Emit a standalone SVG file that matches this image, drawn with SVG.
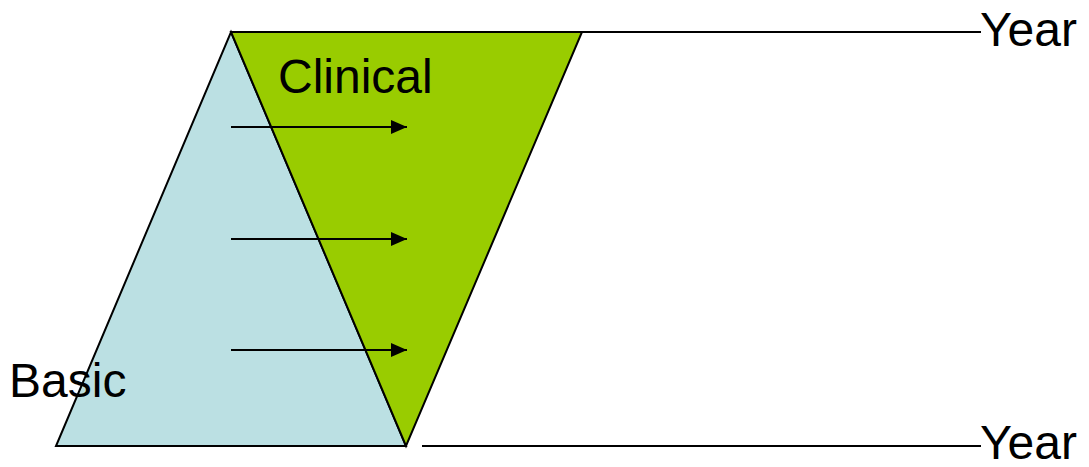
<svg xmlns="http://www.w3.org/2000/svg" width="1089" height="467" viewBox="0 0 1089 467">
<style>
text{font-family:"Liberation Sans",Arial,sans-serif;font-size:48px;fill:#000}
.shape{stroke:#000;stroke-width:2;stroke-linejoin:miter}
.ln{stroke:#000;stroke-width:2;fill:none}
</style>
<defs>
<marker id="ah2" viewBox="0 0 16 14" refX="16" refY="7" markerWidth="16" markerHeight="14" orient="auto" markerUnits="userSpaceOnUse">
<path d="M0,0 L16,7 L0,14 Z" fill="#000"/>
</marker>
</defs>
<g id="basic">
<polygon class="shape" points="231,32 406,446 56,446" fill="#BBE0E3"/>
</g>
<g id="clinical">
<polygon class="shape" points="231,32 582,32 406,446" fill="#99CC00"/>
</g>
<g id="connectors">
<line class="ln" x1="582" y1="32" x2="981" y2="32"/>
<line class="ln" x1="422" y1="446" x2="981" y2="446"/>
<line class="ln" x1="231" y1="127" x2="407" y2="127" marker-end="url(#ah2)"/>
<line class="ln" x1="231" y1="239" x2="407" y2="239" marker-end="url(#ah2)"/>
<line class="ln" x1="231" y1="350" x2="407" y2="350" marker-end="url(#ah2)"/>
</g>
<g id="labels">
<text x="278" y="93">Clinical</text>
<text x="9" y="397">Basic</text>
<text x="980" y="46">Year</text>
<text x="980" y="459">Year</text>
</g>
</svg>
